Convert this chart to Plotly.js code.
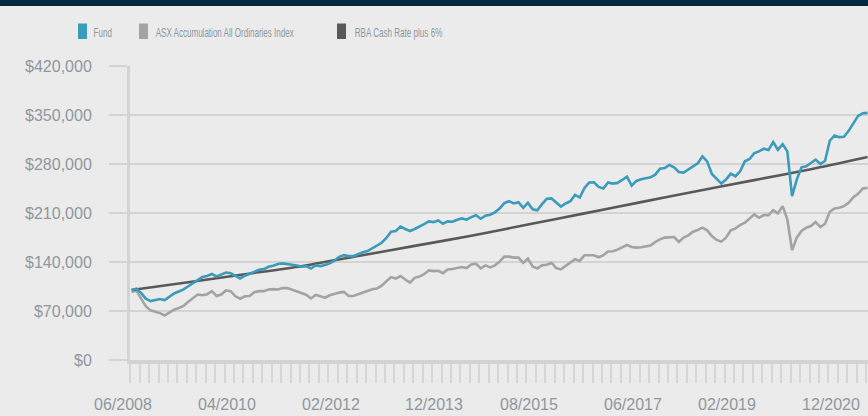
<!DOCTYPE html>
<html>
<head>
<meta charset="utf-8">
<script src="https://cdn.plot.ly/plotly-3.0.1.min.js"></script>
<style>
  html, body { margin: 0; padding: 0; background: #ebebeb; }
  #chart { width: 868px; height: 416px; }
</style>
</head>
<body>
<div id="chart"></div>
<script>
// Values in thousands of dollars, monthly from 06/2008
const fundValues = [
  100, 101.8, 95.9, 87.6, 84.2, 86.1, 87.1, 85.6, 90, 95,
  97.9, 100.8, 105.3, 110.1, 115, 118.5, 120, 122.9, 119.5, 121.9,
  124.9, 123.9, 120, 116.5, 120.4, 122.9, 126.3, 128.8, 129.8, 133.2,
  134.7, 137.1, 138, 137.5, 136.1, 135.1, 133.6, 134.1, 130.7, 135.1,
  134.1, 135.6, 138, 142, 147.4, 149.8, 148.4, 148.4, 151.3, 153.8,
  155.7, 159.6, 163.6, 167.5, 174.4, 183.2, 184.2, 190.6, 187.2, 184.2,
  187.2, 190.2, 194.1, 198, 197, 199.4, 194.6, 198, 197.5, 200.4,
  202.3, 200.4, 204.2, 206.7, 201.8, 206.2, 207.6, 211, 216.3, 224,
  226.9, 223.6, 225.5, 217.3, 224.5, 215.3, 213.9, 222.6, 230.3, 230.8,
  225.5, 219.2, 223.6, 226.9, 235.9, 232.1, 245.9, 253.5, 253.9, 247.3,
  244.9, 253.5, 252, 253, 257.2, 262, 249.2, 255.8, 258.2, 260.1,
  261, 264.8, 273.4, 274.3, 278.6, 275.3, 268.6, 267.7, 272.4, 276.2,
  280.9, 290.9, 283.8, 265.8, 259.1, 252, 257.7, 266.3, 262.5, 269.6,
  283.8, 287.1, 295.6, 298, 301.8, 299.9, 311.3, 300.4, 308.4, 298,
  234, 257.7, 275.3, 276.7, 281.4, 286.2, 280, 284.7, 313.2, 320.8,
  318.4, 318.9, 327.4, 337.8, 348.7, 352.5, 353
];
const asxValues = [
  97, 99.4, 87.6, 76.8, 70.9, 69, 67, 63.6, 67.5, 71.9,
  74.4, 77.3, 83.2, 88.1, 93.5, 92.5, 94, 98.4, 91.5, 93.5,
  99.4, 98.4, 91, 87.6, 91, 91.5, 96.9, 98.4, 98.4, 100.8,
  101.3, 100.7, 102.7, 102.7, 100.2, 97.8, 95.8, 93.3, 87.9, 92.8,
  90.9, 88.9, 92.4, 94.8, 96.3, 97.3, 91.4, 91.4, 93.8, 96.3,
  99.2, 101.2, 102.2, 106.1, 112.5, 118.4, 116.4, 119.9, 115, 110.5,
  117.4, 119.2, 122.6, 127.9, 127, 127.4, 124.1, 129.4, 129.9, 131.8,
  132.8, 131.3, 136.6, 137.6, 130.8, 135.2, 132.3, 135.2, 140.5, 147.7,
  147.7, 146.3, 146.3, 138.6, 144.8, 133.7, 130.8, 135.2, 136.1, 139,
  131.3, 129.4, 134.2, 139.2, 144, 141.6, 149.7, 149.7, 149.7, 146.8,
  149.7, 154.9, 155.3, 157.7, 161.5, 164.3, 161.5, 160.6, 161, 162,
  163.4, 168.6, 172.4, 174.8, 175.7, 175.7, 168.6, 174.8, 178.1, 183.3,
  185.7, 189, 185.2, 177, 171.5, 169.1, 174.8, 185.2, 188, 192.8,
  196.1, 202.3, 208, 203.2, 207, 207, 214.1, 209.4, 219.8, 200.8,
  156.8, 174.8, 184.3, 189, 191.4, 197, 189.9, 194.7, 211.7, 216.5,
  217.4, 219.8, 224.5, 232.6, 237.3, 244.9, 245.9
];
const rbaMonths = [0, 12, 24, 36, 48, 60, 72, 84, 96, 108, 120, 132, 144, 156];
const rbaValues = [100, 111, 122.5, 134, 148.5, 163, 177.5, 193.5, 209.5, 225.5, 241.5, 257, 272.5, 290];

const tickMonths = [0, 22, 44, 66, 86, 108, 128, 150];
const tickLabels = ['06/2008', '04/2010', '02/2012', '12/2013', '08/2015', '06/2017', '02/2019', '12/2020'];
const yTickValues = [0, 70000, 140000, 210000, 280000, 350000, 420000];
const yTickLabels = ['$0', '$70,000', '$140,000', '$210,000', '$280,000', '$350,000', '$420,000'];

const seriesNames = ['Fund', 'ASX Accumulation All Ordinaries Index', 'RBA Cash Rate plus 6%'];
const seriesColors = ['#3a9bbb', '#a3a3a3', '#595959'];

const toDollars = arr => arr.map(v => v * 1000);

const X_RANGE = [-0.35, 156.1];
const LABEL_OFFSET = -1.8; // date labels sit slightly left of their month

const traces = [
  { y: toDollars(asxValues), mode: 'lines', name: seriesNames[1],
    line: { color: seriesColors[1], width: 2.6 }, showlegend: false },
  { x: rbaMonths, y: toDollars(rbaValues), mode: 'lines', name: seriesNames[2],
    line: { color: seriesColors[2], width: 2.6, shape: 'spline', smoothing: 0.6 }, showlegend: false },
  { y: toDollars(fundValues), mode: 'lines', name: seriesNames[0],
    line: { color: seriesColors[0], width: 2.6 }, showlegend: false }
];

const PLOT_L = 130, PLOT_W = 738, PLOT_T = 66, PLOT_H = 294;
const px2x = px => (px - PLOT_L) / PLOT_W;
const px2y = py => 1 - (py - PLOT_T) / PLOT_H;
const month2paper = m => (m - X_RANGE[0]) / (X_RANGE[1] - X_RANGE[0]);

const legendBoxX = [78, 139, 337];
const legendTextX = [94, 156, 354];
const legendTextW = [18.5, 138.5, 88];

const shapes = [
  { type: 'rect', xref: 'paper', yref: 'paper', x0: px2x(0), x1: px2x(868), y0: px2y(0), y1: px2y(6),
    fillcolor: '#012942', line: { width: 0 }, layer: 'above' }
];
const annotations = [];
seriesNames.forEach((n, i) => {
  shapes.push({ type: 'rect', xref: 'paper', yref: 'paper',
    x0: px2x(legendBoxX[i]), x1: px2x(legendBoxX[i] + 9),
    y0: px2y(23.5), y1: px2y(39),
    fillcolor: seriesColors[i], line: { width: 0 } });
  annotations.push({ xref: 'paper', yref: 'paper', x: px2x(legendTextX[i] + legendTextW[i] / 2), y: px2y(32),
    xanchor: 'center', yanchor: 'middle', showarrow: false, text: n, borderpad: 0,
    font: { family: 'Liberation Sans, Arial, sans-serif', size: 13, color: '#8e979e' } });
});
tickMonths.forEach((m, i) => {
  annotations.push({ xref: 'paper', yref: 'paper', x: month2paper(m + LABEL_OFFSET), y: px2y(404),
    xanchor: 'center', yanchor: 'middle', showarrow: false, text: tickLabels[i],
    font: { family: 'Liberation Sans, Arial, sans-serif', size: 16, color: '#8e979e' } });
});

const gridColor = '#d3d3d3';

const layout = {
  width: 868, height: 416,
  margin: { l: PLOT_L, r: 0, t: PLOT_T, b: 416 - PLOT_T - PLOT_H, pad: 0 },
  paper_bgcolor: '#ebebeb', plot_bgcolor: '#ebebeb',
  font: { family: 'Liberation Sans, Arial, sans-serif', size: 16, color: '#8e979e' },
  showlegend: false,
  xaxis: {
    range: X_RANGE,
    showgrid: false, zeroline: false,
    showline: true, linecolor: gridColor, linewidth: 3.5,
    tickmode: 'linear', tick0: -0.3, dtick: 2,
    ticks: 'outside', ticklen: 19, tickwidth: 2, tickcolor: '#d6d6d6',
    showticklabels: false,
    fixedrange: true
  },
  yaxis: {
    range: [0, 420000],
    tickmode: 'array', tickvals: yTickValues, ticktext: yTickLabels,
    showgrid: true, gridcolor: gridColor, gridwidth: 2.5,
    zeroline: false,
    showline: true, linecolor: gridColor, linewidth: 3,
    ticks: 'outside', ticklen: 18, tickwidth: 2.5, tickcolor: gridColor,
    ticklabelstandoff: 14,
    tickfont: { size: 16, color: '#8e979e' },
    fixedrange: true
  },
  shapes: shapes,
  annotations: annotations
};

Plotly.newPlot('chart', traces, layout, { staticPlot: true, displayModeBar: false }).then(gd => {
  // squeeze the legend texts horizontally to the reference's narrow lettering
  const groups = gd.querySelectorAll('.annotation');
  groups.forEach((g, i) => {
    if (i >= legendTextW.length) return;
    const t = g.querySelector('.annotation-text');
    const bg = g.querySelector('rect.bg');
    if (!t) return;
    const bb = t.getBBox();
    if (!bb.width) return;
    const sx = legendTextW[i] / bb.width;
    const cx = bb.x + bb.width / 2;
    const tr = 'translate(' + cx + ',0) scale(' + sx + ',1) translate(' + (-cx) + ',0)';
    t.setAttribute('transform', tr);
    if (bg) bg.setAttribute('transform', tr);
  });
});
</script>
</body>
</html>
